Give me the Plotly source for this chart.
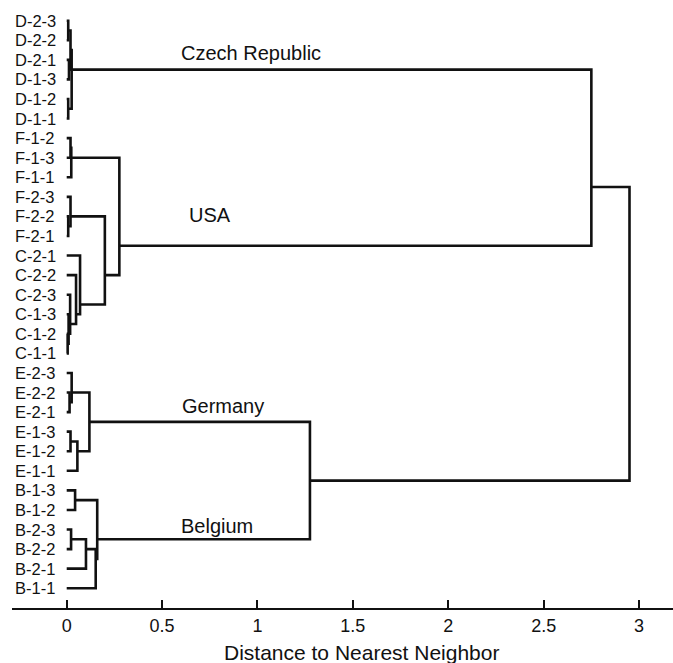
import plotly.graph_objects as go

# ---- data ----
leaf_labels = ["D-2-3", "D-2-2", "D-2-1", "D-1-3", "D-1-2", "D-1-1",
               "F-1-2", "F-1-3", "F-1-1", "F-2-3", "F-2-2", "F-2-1",
               "C-2-1", "C-2-2", "C-2-3", "C-1-3", "C-1-2", "C-1-1",
               "E-2-3", "E-2-2", "E-2-1", "E-1-3", "E-1-2", "E-1-1",
               "B-1-3", "B-1-2", "B-2-3", "B-2-2", "B-2-1", "B-1-1"]

# merges: node ids 0..29 are leaves, merge k creates node 30+k
merge_left = [0, 2, 4, 30, 33, 6, 35, 10, 9, 16, 15, 14, 13, 12, 38, 36, 34,
              19, 18, 21, 49, 48, 24, 26, 53, 54, 52, 51, 46]
merge_right = [1, 3, 5, 31, 32, 7, 8, 11, 37, 17, 39, 40, 41, 42, 43, 44, 45,
               20, 47, 22, 23, 50, 25, 27, 28, 29, 55, 56, 57]
merge_height = [0.008, 0.012, 0.008, 0.020, 0.026, 0.020, 0.024, 0.008, 0.020,
                0.005, 0.010, 0.018, 0.049, 0.070, 0.200, 0.276, 2.75,
                0.015, 0.026, 0.020, 0.056, 0.119, 0.044, 0.023, 0.101,
                0.152, 0.160, 1.275, 2.95]

cluster_names = ["Czech Republic", "USA", "Germany", "Belgium"]
cluster_label_x = [0.590, 0.632, 0.594, 0.590]
cluster_label_y = [1.64, 9.93, 19.69, 25.8]

tick_vals = [0, 0.5, 1, 1.5, 2, 2.5, 3]
tick_text = ["0", "0.5", "1", "1.5", "2", "2.5", "3"]
x_title = "Distance to Nearest Neighbor"

# ---- compute node positions (mean of leaf positions) ----
n = len(leaf_labels)
leaves_of = {i: [i] for i in range(n)}
height_of = {i: 0.0 for i in range(n)}
xs, ys = [], []
for k, (a, b, h) in enumerate(zip(merge_left, merge_right, merge_height)):
    node = n + k
    leaves_of[node] = leaves_of[a] + leaves_of[b]
    height_of[node] = h
    ya = sum(leaves_of[a]) / len(leaves_of[a])
    yb = sum(leaves_of[b]) / len(leaves_of[b])
    xs += [height_of[a], h, h, height_of[b], None]
    ys += [ya, ya, yb, yb, None]

FONT = "Liberation Sans, Arial, sans-serif"
INK = "#111111"

fig = go.Figure()
fig.add_trace(go.Scatter(x=xs, y=ys, mode="lines",
                         line=dict(color=INK, width=2.6),
                         hoverinfo="skip", showlegend=False))

annotations = []
for i, lab in enumerate(leaf_labels):
    annotations.append(dict(x=-0.28, y=i, xref="x", yref="y", text=lab,
                            showarrow=False, xanchor="left", yanchor="middle",
                            font=dict(family=FONT, size=16.5, color=INK)))
for name, cx, cy in zip(cluster_names, cluster_label_x, cluster_label_y):
    annotations.append(dict(x=cx, y=cy, xref="x", yref="y", text=name,
                            showarrow=False, xanchor="left", yanchor="middle",
                            font=dict(family=FONT, size=20, color=INK)))
annotations.append(dict(x=(361 - 12) / 661, y=-(652 - 608) / 608,
                        xref="paper", yref="paper", text=x_title,
                        showarrow=False, xanchor="center", yanchor="middle",
                        font=dict(family=FONT, size=21, color=INK)))

fig.update_layout(
    width=673, height=663,
    margin=dict(l=12, r=0, t=0, b=55),
    plot_bgcolor="white", paper_bgcolor="white",
    annotations=annotations,
    xaxis=dict(range=[-0.2867, 3.178], showgrid=False, zeroline=False,
               showline=True, linecolor=INK, linewidth=2.2,
               ticks="inside", ticklen=8, tickwidth=2.2, tickcolor=INK,
               tickvals=tick_vals, ticktext=tick_text,
               tickfont=dict(family=FONT, size=18, color=INK)),
    yaxis=dict(range=[30.01, -1.058], visible=False, showgrid=False,
               zeroline=False),
)

fig.write_html("out.html")
